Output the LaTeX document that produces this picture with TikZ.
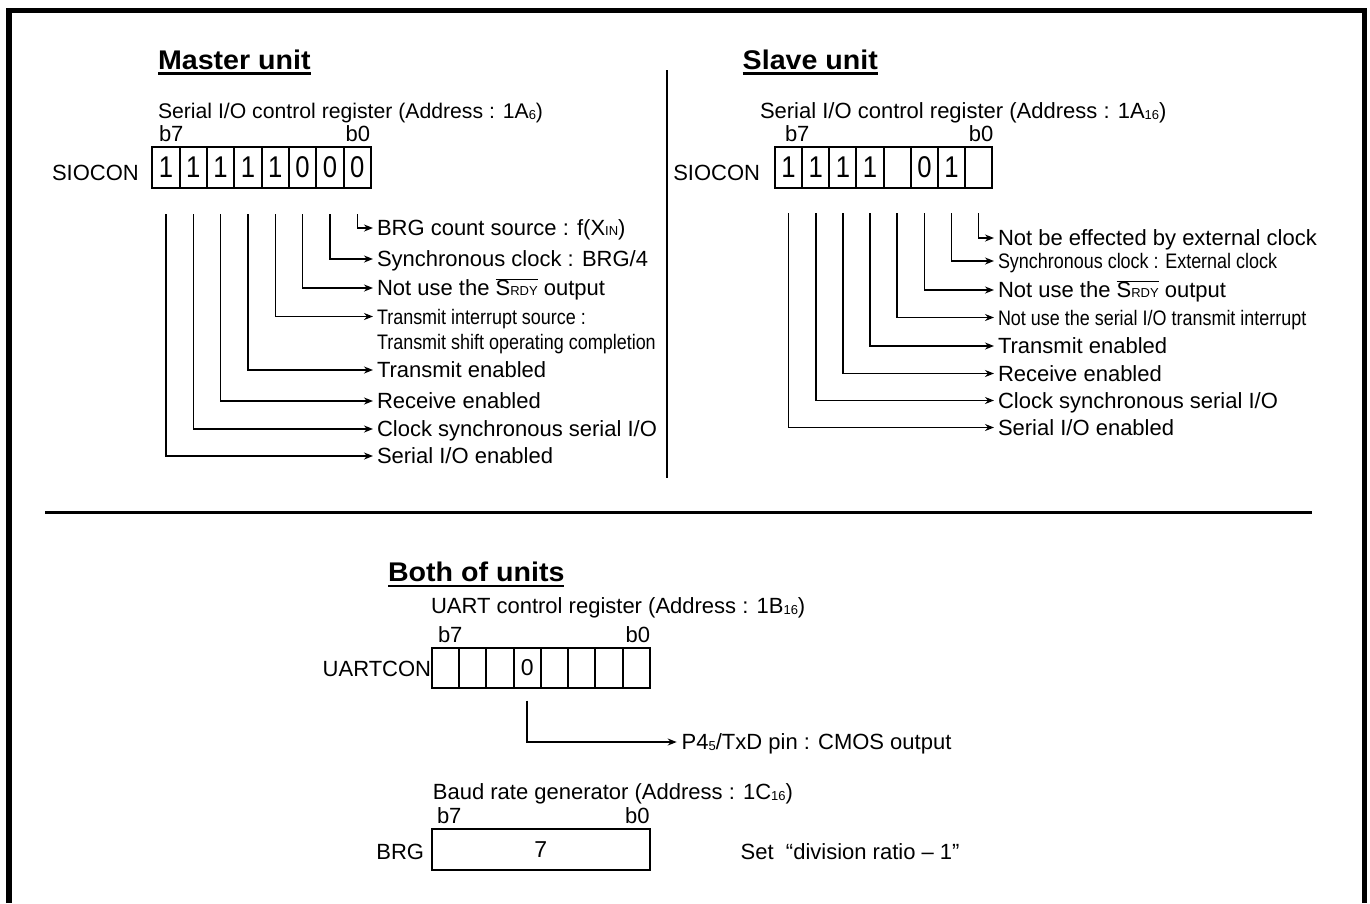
\documentclass[tikz,border=0pt]{standalone}
\usepackage{fontspec}
\setmainfont{Liberation Sans}
\newfontfamily\narrowf[FakeStretch=0.855]{Liberation Sans}
\newfontfamily\titlef[FakeStretch=1.06]{Liberation Sans}
\usetikzlibrary{arrows.meta}
\newcommand\smtxt[1]{{\fontsize{13}{13}\selectfont #1}}
\newcommand\subd[1]{\raisebox{-1pt}{\fontsize{13}{13}\selectfont #1}}
\newcommand\srdy{$\overline{\hbox{S\smtxt{RDY}}}$}
\begin{document}
\begin{tikzpicture}[x=1pt,y=-1pt,
  txt/.style={inner sep=0pt,outer sep=0pt,font=\fontsize{22}{26}\selectfont},
  hdr/.style={txt,anchor=base west},
  lbl/.style={txt,anchor=west,text height=15.8pt,text depth=0pt},
  nlbl/.style={lbl,font=\narrowf\fontsize{21}{25}\selectfont,text height=15.1pt},
  ttl/.style={inner sep=0pt,outer sep=0pt,anchor=base west,font=\titlef\bfseries\fontsize{27}{30}\selectfont},
  uline/.style={line width=2.5pt},
  cell/.style={draw,line width=2pt,minimum height=41pt,inner sep=0pt,outer sep=0pt,font=\fontsize{23}{26}\selectfont},
  bigcell/.style={cell,font=\narrowf\fontsize{30}{30}\selectfont},
  conn/.style={line width=1.5pt,-{Stealth[length=9pt,width=7pt]}},
  frm/.style={line width=5.5pt,line join=miter},
  sepline/.style={line width=2.5pt}]
\useasboundingbox (0,0) rectangle (1370,903);
\fill[white] (0,0) rectangle (1370,903);
% frame and separators
\draw[frm] (9,903) -- (9,10.5) -- (1364.5,10.5) -- (1364.5,903);
\draw[sepline,line width=2pt] (667.3,70) -- (667.3,478);
\draw[sepline] (45,512.3) -- (1312.3,512.3);

% ---------------- Master unit
\node[ttl] (mt) at (158,69.3) {Master unit};
\draw[uline] ([yshift=-4.3pt]mt.base west) -- ([yshift=-4.3pt]mt.base east);
\node[hdr,font=\fontsize{21.2}{25}\selectfont] (mh) at (158,118.3) {Serial I/O control register (Address : 1A\subd{6})};
\node[hdr] (mb7) at (159,141.7) {b7};
\node[hdr,anchor=base east] (mb0) at (370,141.7) {b0};
\node[hdr] (mname) at (52,180) {SIOCON};
\foreach \k/\v in {0/1,1/1,2/1,3/1,4/1,5/0,6/0,7/0}
  \node[bigcell,minimum width=27.33pt] (m\k) at ({152.3+27.33*(\k+0.5)},167.5) {\v};
\node[lbl] (ml7) at (377,228) {BRG count source : f(X\smtxt{IN})};
\node[lbl] (ml6) at (377,259) {Synchronous clock : BRG/4};
\node[lbl] (ml5) at (377,288) {Not use the \srdy{} output};
\node[nlbl] (ml4) at (377,316.5) {Transmit interrupt source :};
\node[nlbl] (ml4b) at (377,342) {Transmit shift operating completion};
\node[lbl] (ml3) at (377,370) {Transmit enabled};
\node[lbl] (ml2) at (377,401) {Receive enabled};
\node[lbl] (ml1) at (377,429) {Clock synchronous serial I/O};
\node[lbl] (ml0) at (377,456) {Serial I/O enabled};
\foreach \k in {0,...,7}
  \draw[conn] ([yshift=-26pt]m\k.south) |- ([xshift=-4pt]ml\k.west);

% ---------------- Slave unit
\node[ttl] (st) at (742.7,69.3) {Slave unit};
\draw[uline] ([yshift=-4.3pt]st.base west) -- ([yshift=-4.3pt]st.base east);
\node[hdr] (sh) at (760,118.3) {Serial I/O control register (Address : 1A\subd{16})};
\node[hdr] (sb7) at (785,141.7) {b7};
\node[hdr,anchor=base east] (sb0) at (993.3,141.7) {b0};
\node[hdr] (sname) at (673.3,180) {SIOCON};
\foreach \k/\v in {0/1,1/1,2/1,3/1,4/{},5/0,6/1,7/{}}
  \node[bigcell,minimum width=27.16pt] (s\k) at ({775+27.16*(\k+0.5)},167.3) {\v};
\node[lbl] (sl7) at (998,238) {Not be effected by external clock};
\node[nlbl] (sl6) at (998,261) {Synchronous clock : External clock};
\node[lbl] (sl5) at (998,290) {Not use the \srdy{} output};
\node[nlbl] (sl4) at (998,317.5) {Not use the serial I/O transmit interrupt};
\node[lbl] (sl3) at (998,346) {Transmit enabled};
\node[lbl] (sl2) at (998,373.5) {Receive enabled};
\node[lbl] (sl1) at (998,400.5) {Clock synchronous serial I/O};
\node[lbl] (sl0) at (998,427.5) {Serial I/O enabled};
\foreach \k in {0,...,7}
  \draw[conn] ([yshift=-25.2pt]s\k.south) |- ([xshift=-4pt]sl\k.west);

% ---------------- Both of units
\node[ttl] (bt) at (388,581.5) {Both of units};
\draw[uline] ([yshift=-4.3pt]bt.base west) -- ([yshift=-4.3pt]bt.base east);
\node[hdr] (uh) at (431,613.3) {UART control register (Address : 1B\subd{16})};
\node[hdr] (ub7) at (438,642.7) {b7};
\node[hdr,anchor=base east] (ub0) at (650,642.7) {b0};
\node[hdr] (uname) at (322.7,676) {UARTCON};
\foreach \k/\v in {0/{},1/{},2/{},3/0,4/{},5/{},6/{},7/{}}
  \node[cell,minimum width=27.29pt,minimum height=40.6pt] (u\k) at ({431.7+27.29*(\k+0.5)},668) {\v};
\node[lbl] (pl) at (681.7,742) {P4\subd{5}/TxD pin : CMOS output};
\draw[conn] ([yshift=-12.4pt]u3.south) |- ([xshift=-5pt]pl.west);

\node[hdr] (bh) at (432.9,799.3) {Baud rate generator (Address : 1C\subd{16})};
\node[hdr] (bb7) at (437,823) {b7};
\node[hdr,anchor=base east] (bb0) at (649.6,823) {b0};
\node[cell,minimum width=217.8pt,minimum height=40.7pt] (brg) at (540.7,849.65) {7};
\node[hdr,anchor=base east] (brgn) at (424,859.3) {BRG};
\node[hdr] (set) at (740.7,859.3) {Set\ \ “division ratio – 1”};
\end{tikzpicture}
\end{document}
